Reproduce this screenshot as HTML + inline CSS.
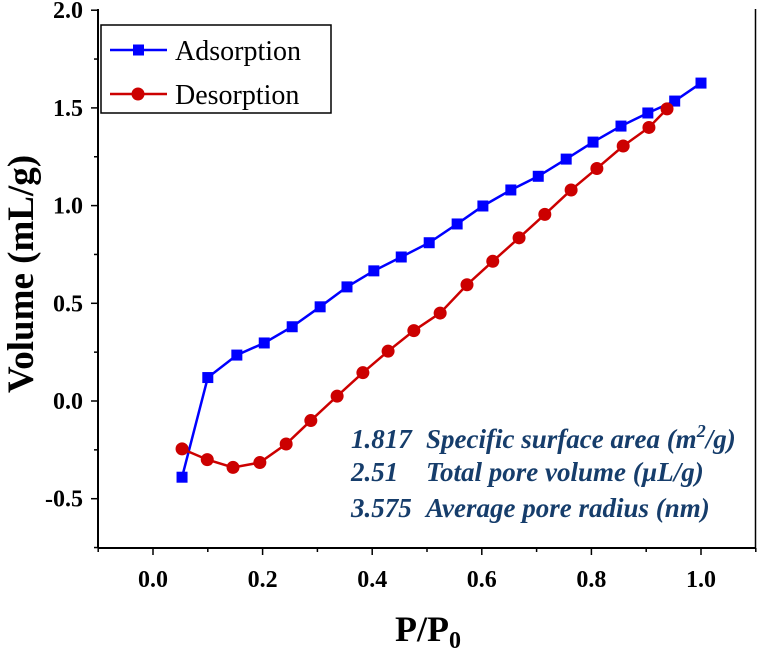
<!DOCTYPE html>
<html><head><meta charset="utf-8"><style>
body{margin:0;background:#fff}
svg text{font-family:"Liberation Serif",serif}
</style></head><body>
<svg id="c" width="757" height="652"></svg>
<script>
const adsP=[0.053,0.1,0.153,0.203,0.254,0.305,0.354,0.403,0.453,0.504,0.555,0.602,0.653,0.703,0.754,0.803,0.854,0.903,0.952,1.0];
const adsV=[-0.39,0.12,0.235,0.297,0.38,0.482,0.584,0.666,0.737,0.81,0.906,0.998,1.08,1.15,1.238,1.325,1.407,1.474,1.535,1.627];
const desP=[0.053,0.099,0.146,0.195,0.243,0.288,0.336,0.383,0.429,0.476,0.524,0.573,0.620,0.668,0.715,0.763,0.810,0.858,0.905,0.938];
const desV=[-0.245,-0.30,-0.34,-0.315,-0.22,-0.10,0.025,0.145,0.255,0.36,0.45,0.595,0.715,0.835,0.955,1.08,1.19,1.305,1.40,1.495];
const xTicks=[0.0,0.2,0.4,0.6,0.8,1.0];
const yTicks=[-0.5,0.0,0.5,1.0,1.5,2.0];
const NS="http://www.w3.org/2000/svg";
const svg=document.getElementById('c');
const X=p=>153+p*548, Y=v=>401-v*195.4;
function el(t,a,txt){const e=document.createElementNS(NS,t);for(const k in a)e.setAttribute(k,a[k]);if(txt!=null)e.textContent=txt;svg.appendChild(e);return e;}
let e;
e=el('line',{x1:98,y1:548,x2:756,y2:548,stroke:'#000','stroke-width':2});


e=el('line',{x1:98,y1:9,x2:98,y2:548,stroke:'#000','stroke-width':2});


e=el('line',{x1:755.5,y1:9,x2:755.5,y2:548,stroke:'#000','stroke-width':1.5});


for(let p=-0.1;p<=1.101;p+=0.1){const maj=Math.abs(Math.round(p*10)%2)===0;el('line',{x1:X(p),y1:548,x2:X(p),y2:548+(maj?7:4),stroke:'#000','stroke-width':1.5});}
for(let v=-0.75;v<=2.001;v+=0.25){const maj=Math.abs(Math.round(v*4)%2)===0;el('line',{x1:98,y1:Y(v),x2:98-(maj?7:4),y2:Y(v),stroke:'#000','stroke-width':1.5});}
xTicks.forEach(t=>{e=el('text',{x:X(t),y:587,'text-anchor':'middle','font-size':24,'font-weight':'bold'},t.toFixed(1));

});
yTicks.forEach(t=>{e=el('text',{x:83,y:Y(t)+8,'text-anchor':'end','font-size':24,'font-weight':'bold'},t.toFixed(1));

});
e=el('text',{x:0,y:0,transform:'translate(33,274) rotate(-90)','text-anchor':'middle','font-size':37,'font-weight':'bold'},'Volume (mL/g)');


e=el('text',{x:395,y:641,'font-size':36,'font-weight':'bold'});


e.innerHTML='P/P<tspan font-size="24" dy="7">0</tspan>';
function series(P,V,col,shape,name){
 const pts=P.map((p,i)=>X(p)+','+Y(V[i])).join(' ');
 const l=el('polyline',{points:pts,fill:'none',stroke:col,'stroke-width':2.5});
 
 
 P.forEach((p,i)=>{let m;
  if(shape==='sq')m=el('rect',{x:X(p)-5.5,y:Y(V[i])-5.5,width:11,height:11,fill:col});
  else m=el('circle',{cx:X(p),cy:Y(V[i]),r:6.5,fill:col});
  
  });
}
series(adsP,adsV,'#0000ff','sq','adsorption');
series(desP,desV,'#cc0000','ci','desorption');
e=el('rect',{x:101,y:25,width:230,height:88,fill:'#fff',stroke:'#000','stroke-width':1.5});


el('line',{x1:110,y1:50,x2:167,y2:50,stroke:'#0000ff','stroke-width':2.5});
el('rect',{x:133,y:44.5,width:11,height:11,fill:'#0000ff'});
e=el('text',{x:175,y:60,'font-size':28},'Adsorption');


el('line',{x1:110,y1:94,x2:167,y2:94,stroke:'#cc0000','stroke-width':2.5});
el('circle',{cx:138,cy:94,r:6.5,fill:'#cc0000'});
e=el('text',{x:175,y:104,'font-size':28},'Desorption');


const ann=[['1.817','Specific surface area (m<tspan font-size="18" dy="-11">2</tspan><tspan dy="11">/g)</tspan>',448],['2.51','Total pore volume (\u00b5L/g)',481],['3.575','Average pore radius (nm)',517]];
ann.forEach(a=>{e=el('text',{x:351,y:a[2],'font-size':27,'font-weight':'bold','font-style':'italic',fill:'#163d6b'},a[0]);


e=el('text',{x:426,y:a[2],'font-size':27,'font-weight':'bold','font-style':'italic',fill:'#163d6b'});
e.innerHTML=a[1];

});
</script>
</body></html>
